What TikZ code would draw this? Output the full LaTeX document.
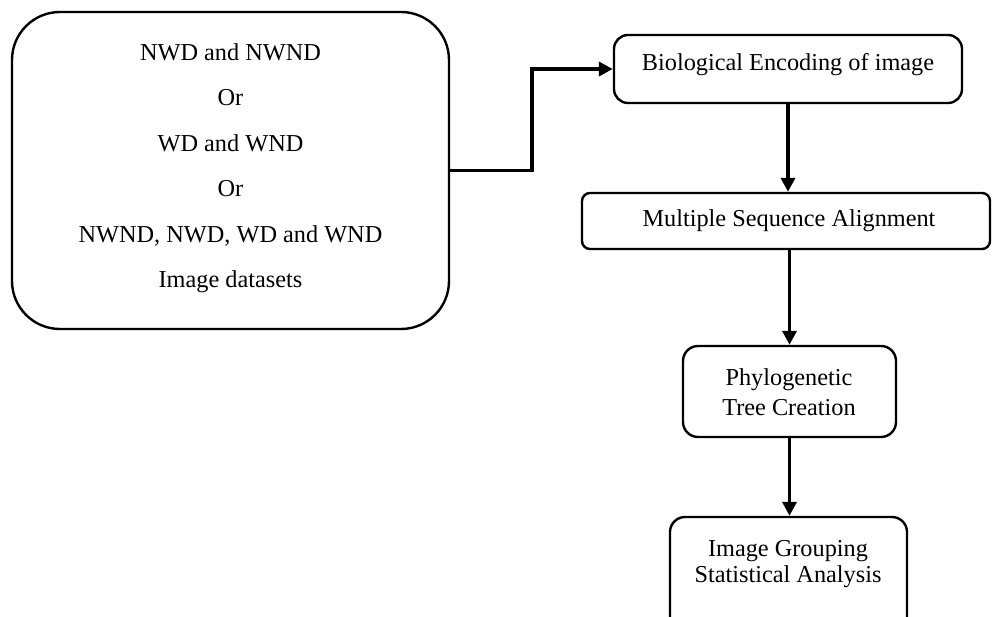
\documentclass[tikz,border=0pt]{standalone}
\usepackage{fontspec}
\setmainfont{Liberation Serif}
\usetikzlibrary{arrows.meta}
\begin{document}
\begin{tikzpicture}[x=1pt,y=-1pt,
  box/.style={draw, line width=2.4pt, rounded corners=#1, inner sep=0pt},
  box/.default=14pt,
  txt/.style={font=\fontsize{24.3}{#1}\selectfont, align=center, inner sep=0pt},
  txt/.default=28,
  flow/.style={line width=3.8pt, -{Triangle[length=14pt,width=14pt]}}
]
\useasboundingbox (0,0) rectangle (992,617);

% input datasets
\node[box=48pt, minimum width=437pt, minimum height=317pt] (data) at (230.5,170.5) {};
\node[txt=45.5] (datatext) at (230.5,168) {NWD and NWND\\Or\\WD and WND\\Or\\NWND, NWD, WD and WND\\Image datasets};

% processing steps
\node[box=14pt, minimum width=348pt, minimum height=68pt] (enc) at (788,69) {};
\node[txt] (enctext) at (788,65) {Biological Encoding of image};

\node[box=8pt, minimum width=408pt, minimum height=56pt] (msa) at (786,221) {};
\node[txt] (msatext) at (789,221) {Multiple Sequence Alignment};

\node[box=15pt, minimum width=213pt, minimum height=91pt] (phy) at (789.5,391.5) {};
\node[txt=30] (phytext) at (789,392) {Phylogenetic\\Tree Creation};

\node[box=15pt, minimum width=237pt, minimum height=133pt] (grp) at (788.5,583.5) {};
\node[txt=26] (grptext) at (788,564.5) {Image Grouping\\Statistical Analysis};

% connectors
\coordinate (bend) at (532,120);
\draw[flow] (data.east) -- (data.east -| bend) -- (bend |- enc.west) -- (enc.west);
\draw[flow] (enc.south) -- (enc.south |- msa.north);
\draw[flow] (phy.north |- msa.south) -- (phy.north);
\draw[flow] (phy.south) -- (phy.south |- grp.north);
\end{tikzpicture}
\end{document}
